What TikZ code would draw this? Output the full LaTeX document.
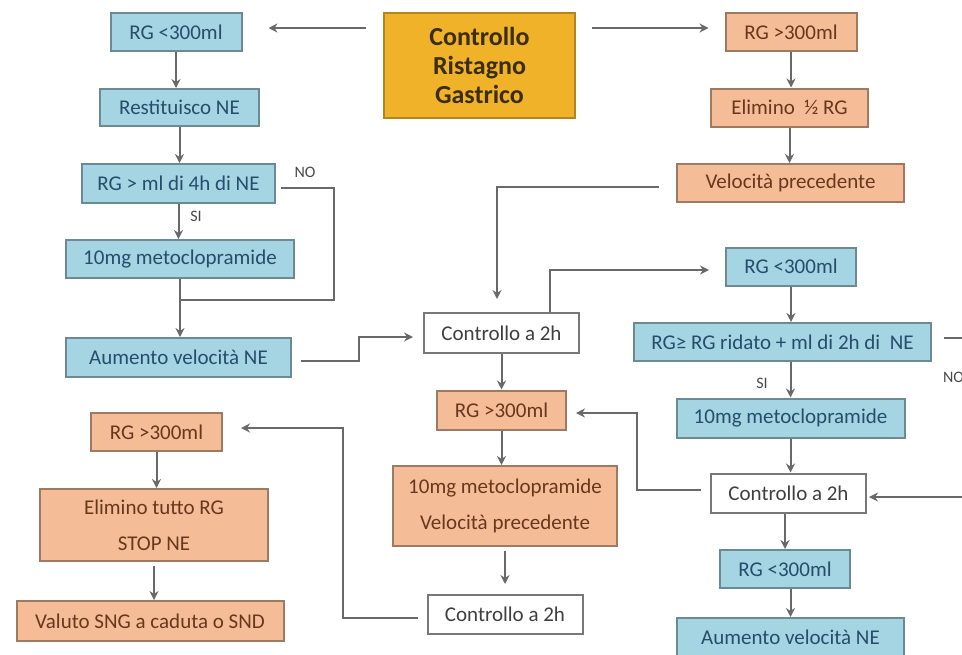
\documentclass[tikz,border=0pt]{standalone}
\usepackage{fontspec}
\setmainfont{Carlito}
\usetikzlibrary{arrows.meta,positioning}
\definecolor{skyb}{RGB}{165,212,226}
\definecolor{skybtxt}{RGB}{38,78,108}
\definecolor{peach}{RGB}{245,188,152}
\definecolor{peachtxt}{RGB}{105,55,28}
\definecolor{gold}{RGB}{240,178,40}
\definecolor{ink}{RGB}{105,105,105}
\tikzset{
  >={Stealth[length=4.5pt,width=4.5pt]},
  box/.style={draw=#1!65!black,fill=#1,text=#1txt,line width=1pt,inner sep=0pt,
    align=center,font=\fontsize{10.5}{18}\selectfont},
  box/.default=skyb,
  chk/.style={draw=ink!90,fill=white,text=ink!60!black,line width=1pt,inner sep=0pt,
    font=\fontsize{10.5}{18}\selectfont},
  head/.style={draw=gold!75!black,fill=gold,text=gold!25!black,line width=1pt,inner sep=0pt,
    align=center,font=\fontsize{13}{14.5}\selectfont\bfseries},
  sz/.style 2 args={minimum width=#1*0.5pt,minimum height=#2*0.5pt},
  flow/.style={->,line width=1pt,draw=ink},
  wire/.style={line width=1pt,draw=ink},
  tag/.style={font=\fontsize{8}{9}\selectfont,text=ink!70!black},
}

\begin{document}
\begin{tikzpicture}[x=0.5pt,y=-0.5pt]
  \useasboundingbox (0,0) rectangle (962,654);
  % start
  \node[head,sz={191}{105}] (ctl) at (479.5,65.5) {Controllo\\Ristagno\\Gastrico};
  % left column
  \node[box,sz={131}{38}] (l1) at (176,32) {RG <300ml};
  \node[box,sz={159}{37}] (l2) at (179.5,107.5) {Restituisco NE};
  \node[box,sz={193}{39}] (l3) at (178.5,183.5) {RG > ml di 4h di NE};
  \node[box,sz={228}{38}] (l4) at (180,259) {10mg metoclopramide};
  \node[box,sz={225}{39}] (l5) at (178.5,357.5) {Aumento velocità NE};
  \coordinate (jn) at (180,300);
  % middle column
  \node[chk,sz={155}{40}] (m1) at (501.5,333) {Controllo a 2h};
  \node[box=peach,sz={129}{39}] (m2) at (501.5,410) {RG >300ml};
  \node[box=peach,sz={224}{80}] (m3) at (505,506) {10mg metoclopramide\\Velocità precedente};
  \node[chk,sz={155}{39}] (m4) at (505,614.5) {Controllo a 2h};
  % bottom left
  \node[box=peach,sz={131}{38}] (b1) at (156.5,432) {RG >300ml};
  \node[box=peach,sz={228}{72}] (b2) at (154,525) {Elimino tutto RG\\STOP NE};
  \node[box=peach,sz={267}{40}] (b3) at (150,621) {Valuto SNG a caduta o SND};
  % right column
  \node[box=peach,sz={131}{38}] (r1) at (791,32) {RG >300ml};
  \node[box=peach,sz={157}{38}] (r2) at (789.5,107.5) {Elimino ~½ RG};
  \node[box=peach,sz={227}{38}] (r3) at (790.5,183) {Velocità precedente};
  \node[box,sz={130}{38}] (r4) at (791,266.5) {RG <300ml};
  \node[box,sz={297}{38}] (r5) at (782.5,342) {RG≥ RG ridato + ml di 2h di~ NE};
  \node[box,sz={228}{39}] (r6) at (790.5,418) {10mg metoclopramide};
  \node[chk,sz={155}{39}] (r7) at (788.5,493) {Controllo a 2h};
  \node[box,sz={130}{38}] (r8) at (785,569) {RG <300ml};
  \node[box,sz={227}{38}] (r9) at (790.5,637) {Aumento velocità NE};
  \coordinate (rim) at (962,497);
  % labels
  \node[tag] (no1) at (305,172) {NO};
  \node[tag] (si1) at (196,216) {SI};
  \node[tag] (si2) at (762,383) {SI};
  \node[tag,anchor=west] (no2) at (936,377) {NO};

  % connectors
  \draw[flow,shorten <=8.5pt,shorten >=13pt] ([yshift=2pt]ctl.west |- l1.east) -- ([yshift=2pt]l1.east);
  \draw[flow,shorten <=8pt,shorten >=8pt] ([yshift=2pt]ctl.east |- r1.west) -- ([yshift=2pt]r1.west);
  \draw[flow] (l1) -- (l1 |- l2.north);
  \draw[flow] (l2) -- (l2 |- l3.north);
  \draw[flow] (l3) -- (l3 |- l4.north);
  \draw[flow] (l4) -- (l4 |- l5.north);
  \draw[wire] ([xshift=2.5pt,yshift=-2pt]l3.east) -- ++(26.5pt,0) |- (jn);
  \draw[flow,shorten >=5pt] ([xshift=4.5pt,yshift=-1.75pt]l5.east) -- ++(29pt,0) |- ([yshift=-2pt]m1.west);
  \draw[flow,shorten >=6.5pt] ([xshift=-8.5pt,yshift=-2pt]r3.west) -| ([xshift=-2.25pt]m1.north);
  \draw[flow,shorten >=8pt] ([xshift=24pt]m1.north) |- ([yshift=-1.75pt]r4.west);
  \draw[flow] (m1) -- (m1 |- m2.north);
  \draw[flow] (m2) -- (m2 |- m3.north);
  \draw[flow,shorten <=2pt,shorten >=5pt] (m3) -- (m3 |- m4.north);
  \draw[flow,shorten >=9pt] ([xshift=-4.5pt,yshift=-1.75pt]m4.west) -- ++(-37.5pt,0) |- ([yshift=2pt]b1.east);
  \draw[flow] (b1) -- (b1 |- b2.north);
  \draw[flow,shorten <=2pt] (b2) -- (b2 |- b3.north);
  \draw[flow] (r1) -- (r1 |- r2.north);
  \draw[flow] (r2) -- (r2 |- r3.north);
  \draw[flow] (r4) -- (r4 |- r5.north);
  \draw[flow] (r5.south -| r6) -- (r6);
  \draw[flow] (r6) -- (r6 |- r7.north);
  \draw[flow] (r7.south -| r8) -- (r8);
  \draw[flow] (r8.south -| r9) -- (r9);
  \draw[wire] ([xshift=6pt,yshift=2pt]r5.east) -- ++(10pt,0);
  \draw[flow,shorten >=1pt] (rim) -- (rim -| r7.east);
  \draw[flow,shorten >=4.5pt] ([xshift=-4.5pt,yshift=1.5pt]r7.west) -- ++(-32pt,0) |- ([yshift=-1.5pt]m2.east);
\end{tikzpicture}
\end{document}
